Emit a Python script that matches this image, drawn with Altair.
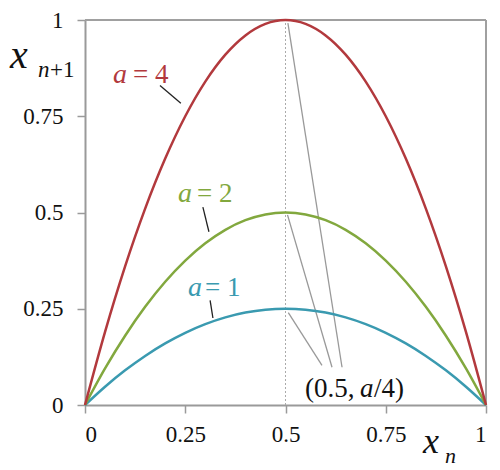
import altair as alt
import pandas as pd

xs = [0.0, 0.05, 0.1, 0.15, 0.2, 0.25, 0.3, 0.35, 0.4, 0.45, 0.5,
      0.55, 0.6, 0.65, 0.7, 0.75, 0.8, 0.85, 0.9, 0.95, 1.0]
y_a1 = [0, 0.0475, 0.09, 0.1275, 0.16, 0.1875, 0.21, 0.2275, 0.24, 0.2475, 0.25,
        0.2475, 0.24, 0.2275, 0.21, 0.1875, 0.16, 0.1275, 0.09, 0.0475, 0]
y_a2 = [0, 0.095, 0.18, 0.255, 0.32, 0.375, 0.42, 0.455, 0.48, 0.495, 0.5,
        0.495, 0.48, 0.455, 0.42, 0.375, 0.32, 0.255, 0.18, 0.095, 0]
y_a4 = [0, 0.19, 0.36, 0.51, 0.64, 0.75, 0.84, 0.91, 0.96, 0.99, 1.0,
        0.99, 0.96, 0.91, 0.84, 0.75, 0.64, 0.51, 0.36, 0.19, 0]
series = ["a = 1", "a = 2", "a = 4"]
colors = ["#3a9ab0", "#82a83e", "#b2393d"]
ticks = [0, 0.25, 0.5, 0.75, 1]

lab_x_a = [0.0698, 0.2319, 0.2569]
lab_x_eq = [0.1197, 0.2793, 0.2993]
lab_y = [0.8355, 0.527, 0.2828]
lab_eq = ["= 4", "= 2", "= 1"]
lab_col = ["#b2393d", "#82a83e", "#3a9ab0"]

ld_x1 = [0.187, 0.294, 0.312]
ld_y1 = [0.830, 0.514, 0.272]
ld_x2 = [0.239, 0.309, 0.319]
ld_y2 = [0.784, 0.450, 0.226]

gv_x1 = [0.506, 0.505, 0.507]
gv_y1 = [0.992, 0.494, 0.240]
gv_x2 = [0.641, 0.616, 0.591]
gv_y2 = [0.098, 0.098, 0.103]

vt_x = [0.5486, 0.686, 0.721]
vt_t = ["(0.5,", "a", "/4)"]
vt_i = ["normal", "italic", "normal"]

rows = []
for name, ys in zip(series, [y_a1, y_a2, y_a4]):
    for x, y in zip(xs, ys):
        rows.append({"x": x, "y": y, "s": name})
curves_df = pd.DataFrame(rows)

xsc = alt.Scale(domain=[0, 1], nice=False)
ysc = alt.Scale(domain=[0, 1], nice=False)
SERIF = "Liberation Serif"

axis_common = dict(
    values=ticks, grid=False, domainColor="#9a9a9a", domainWidth=2,
    tickColor="#9a9a9a", tickWidth=1.5, tickSize=8,
    labelFont=SERIF, labelFontSize=23, labelColor="#111",
    labelExpr="datum.value == 0 ? '0' : datum.value == 1 ? '1' : format(datum.value, '.2~f')",
    title=None,
)

base = alt.Chart(curves_df)

curves = base.mark_line(strokeWidth=2.5, interpolate="monotone", clip=False).encode(
    x=alt.X("x:Q", scale=xsc, axis=alt.Axis(labelPadding=10, **axis_common)),
    y=alt.Y("y:Q", scale=ysc, axis=alt.Axis(labelPadding=14, **axis_common)),
    color=alt.Color("s:N", scale=alt.Scale(domain=series, range=colors), legend=None),
    detail="s:N",
)

vline_df = pd.DataFrame({"x": [0.5], "y": [0.0], "y2": [1.0]})
vline = alt.Chart(vline_df).mark_rule(color="#aaaaaa", strokeDash=[2, 2], strokeWidth=1).encode(
    x=alt.X("x:Q", scale=xsc), y=alt.Y("y:Q", scale=ysc), y2="y2:Q"
)

frame_df = pd.DataFrame({"x": [0.0, 1.0], "y": [1.0, 0.0], "x2": [1.0, 1.0], "y2": [1.0, 1.0]})
frame = alt.Chart(frame_df).mark_rule(color="#a0a0a0", strokeWidth=2).encode(
    x=alt.X("x:Q", scale=xsc), y=alt.Y("y:Q", scale=ysc), x2="x2:Q", y2="y2:Q"
)

lead_df = pd.DataFrame({"x": ld_x1, "y": ld_y1, "x2": ld_x2, "y2": ld_y2})
leaders = alt.Chart(lead_df).mark_rule(color="#222", strokeWidth=1.3).encode(
    x=alt.X("x:Q", scale=xsc), y=alt.Y("y:Q", scale=ysc), x2="x2:Q", y2="y2:Q"
)

gv_df = pd.DataFrame({"x": gv_x1, "y": gv_y1, "x2": gv_x2, "y2": gv_y2})
gvlines = alt.Chart(gv_df).mark_rule(color="#999", strokeWidth=1.3).encode(
    x=alt.X("x:Q", scale=xsc), y=alt.Y("y:Q", scale=ysc), x2="x2:Q", y2="y2:Q"
)

la_df = pd.DataFrame({"x": lab_x_a, "y": lab_y, "c": lab_col})
lab_a = alt.Chart(la_df).mark_text(
    text="a", font=SERIF, fontStyle="italic", fontSize=28,
    align="left", baseline="alphabetic",
).encode(x=alt.X("x:Q", scale=xsc), y=alt.Y("y:Q", scale=ysc), color=alt.Color("c:N", scale=None))

le_df = pd.DataFrame({"x": lab_x_eq, "y": lab_y, "t": lab_eq, "c": lab_col})
lab_eqm = alt.Chart(le_df).mark_text(
    font=SERIF, fontSize=27, align="left", baseline="alphabetic",
).encode(x=alt.X("x:Q", scale=xsc), y=alt.Y("y:Q", scale=ysc), text="t:N",
         color=alt.Color("c:N", scale=None))

vt_df = pd.DataFrame({"x": vt_x, "y": [0.0206] * 3, "t": vt_t, "i": vt_i})
vt_norm = alt.Chart(vt_df).transform_filter("datum.i == 'normal'").mark_text(
    font=SERIF, fontSize=27, align="left", baseline="alphabetic", color="#111"
).encode(x=alt.X("x:Q", scale=xsc), y=alt.Y("y:Q", scale=ysc), text="t:N")
vt_ital = alt.Chart(vt_df).transform_filter("datum.i == 'italic'").mark_text(
    font=SERIF, fontSize=27, fontStyle="italic", align="left",
    baseline="alphabetic", color="#111"
).encode(x=alt.X("x:Q", scale=xsc), y=alt.Y("y:Q", scale=ysc), text="t:N")

OX, OY = 85, 20  # plot origin on the page


def ptxt(t, px, py, size, italic):
    kw = dict(text=t, font=SERIF, fontSize=size, align="left",
              baseline="alphabetic", color="#111")
    if italic:
        kw["fontStyle"] = "italic"
    return alt.Chart(vline_df).mark_text(**kw).encode(
        x=alt.value(px - OX), y=alt.value(py - OY))


titles = [
    ptxt("x", 10, 68, 40, True),
    ptxt("n", 38, 77, 23, True),
    ptxt("+1", 50, 77, 23, False),
    ptxt("x", 423, 453, 36, True),
    ptxt("n", 445, 463, 22, True),
]

chart = alt.layer(vline, frame, gvlines, leaders, curves, lab_a, lab_eqm, vt_norm, vt_ital, *titles).properties(
    width=401, height=385,
    padding={"left": 77, "top": 12, "right": 6, "bottom": 65},
    autosize=alt.AutoSizeParams(type="none"),
).configure_view(
    stroke=None
).configure(background="white")

chart.save("out.html", embed_options={"renderer": "svg", "actions": False})
